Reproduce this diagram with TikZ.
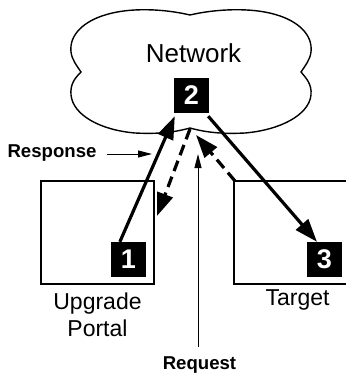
\documentclass[tikz,border=0pt]{standalone}
\usepackage{fontspec}
\setmainfont{Liberation Sans}
\usetikzlibrary{arrows.meta}
\tikzset{
  x=1pt,y=-1pt,
  sq/.style={fill=black,text=white,minimum size=35pt,inner sep=0pt,font=\fontsize{27}{27}\bfseries\selectfont},
  hostbox/.style={draw=black,line width=1.4pt,fill=white,inner sep=0pt},
  thick arrow/.style={line width=3.2pt,-{Triangle[length=23pt,width=16pt]}},
  dash arrow/.style={line width=3.2pt,dash pattern=on 11pt off 6pt,-{Triangle[length=23pt,width=16pt]}},
  thin arrow/.style={line width=1pt,-{Triangle[length=14pt,width=7pt]}},
  lab/.style={font=\fontsize{23}{27}\selectfont,align=center,inner sep=0pt},
  blab/.style={font=\fontsize{18.6}{20}\bfseries\selectfont,inner sep=0pt}
}
\begin{document}
\begin{tikzpicture}
\useasboundingbox (0,0) rectangle (346,373);
% cloud
\draw[line width=1.4pt,line join=miter]
 (190,15) .. controls (165,9) and (130,7) .. (105,15)
 .. controls (85,21) and (69,34) .. (71,52)
 .. controls (72,60) and (77,66) .. (81,72)
 .. controls (75,78) and (70,84) .. (71,95)
 .. controls (73,115) and (100,130) .. (135,133)
 .. controls (155,134) and (172,133) .. (190,128)
 .. controls (208,133) and (225,134) .. (245,133)
 .. controls (280,130) and (309,115) .. (311,95)
 .. controls (312,84) and (306,78) .. (301,72)
 .. controls (305,66) and (310,60) .. (311,52)
 .. controls (313,34) and (297,21) .. (277,15)
 .. controls (252,7) and (215,9) .. (190,15) -- cycle;
\node[lab,font=\fontsize{26}{27}\selectfont] (network) at (193.5,53) {Network};
% hosts
\node[hostbox,minimum width=113pt,minimum height=103pt] (portal) at (97.5,232.5) {};
\path[fill=white] (234,181) rectangle (346,284);
\draw[line width=1.4pt] (346,181) -- (234,181) -- (234,284) -- (346,284);
\coordinate (targetcorner) at (235,181);
\node[sq] (n2) at (191.5,95.5) {2};
\node[sq] (n1) at (128.5,259.5) {1};
\node[sq] (n3) at (324.5,259.5) {3};
\node[lab] (upgrade) at (97.5,315) {Upgrade\\Portal};
\node[lab] (target) at (297.5,300) {Target};
\node[blab] (response) at (52,153) {Response};
\node[blab] (request) at (199.5,365) {Request};
% connectors
\coordinate (notch) at (190,129);
\coordinate (portalend) at (157,216);
\coordinate (targettip) at (196,135);
\coordinate (resptip) at (152,154);
\coordinate (reqtip) at (198,154);
\draw[thick arrow] (n1.116) -- ([shift={(1,3)}]n2.south west);
\draw[thick arrow] ([shift={(-1,3)}]n2.south east) -- (n3.113);
\draw[dash arrow] (notch) -- (portalend);
\draw[dash arrow] (targetcorner) -- (targettip);
\draw[thin arrow] (107,154) coordinate (respstart) -- (resptip);
\draw[thin arrow] (198,347) coordinate (reqstart) -- (reqtip);
\end{tikzpicture}
\end{document}
